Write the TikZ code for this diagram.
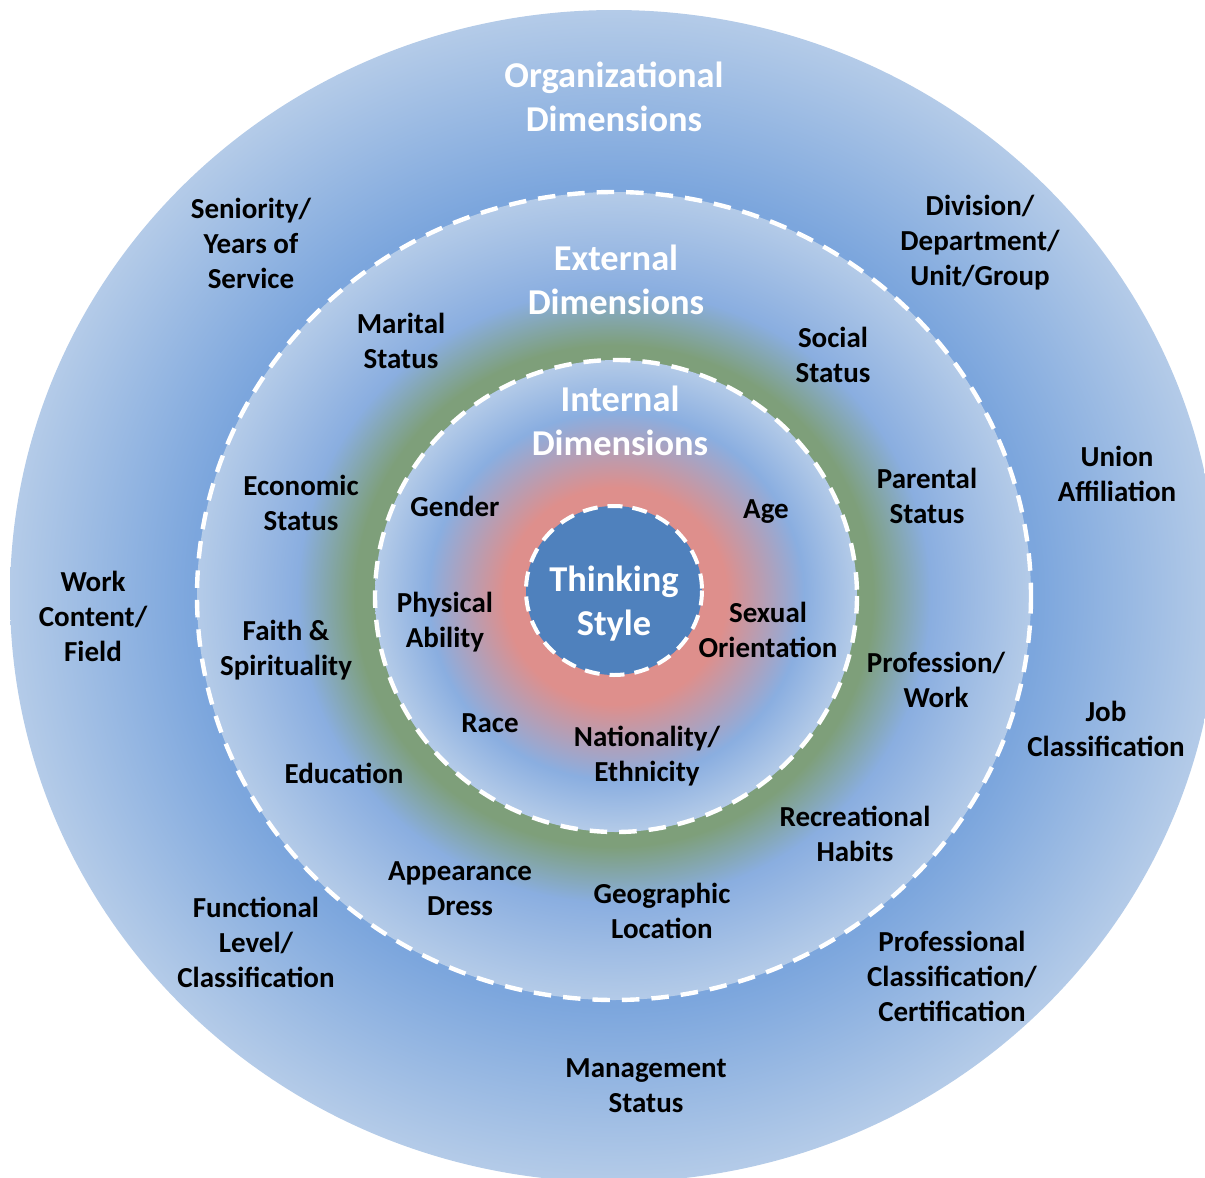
\documentclass[tikz,border=0pt]{standalone}
\usepackage{fontspec}
\setmainfont{Carlito}
\usepackage{tikz}
\definecolor{rimblue}{RGB}{180,203,232}
\definecolor{deepblue}{RGB}{124,166,221}
\definecolor{midblue}{RGB}{138,174,224}
\definecolor{softgreen}{RGB}{126,159,122}
\definecolor{corepink}{RGB}{222,143,140}
\definecolor{coreblue}{RGB}{79,129,189}
% ring shadings, 25bp is the rim of the ellipse
\pgfdeclareradialshading{orgshade}{\pgfpointorigin}{color(0bp)=(deepblue);
  color(17.5bp)=(deepblue); color(25bp)=(rimblue); color(50bp)=(rimblue)}
\pgfdeclareradialshading{extshade}{\pgfpointorigin}{color(0bp)=(softgreen);
  color(15.5bp)=(softgreen); color(19bp)=(midblue); color(25bp)=(rimblue);
  color(50bp)=(rimblue)}
\pgfdeclareradialshading{intshade}{\pgfpointorigin}{color(0bp)=(corepink);
  color(11.5bp)=(corepink); color(19.5bp)=(midblue); color(25bp)=(rimblue);
  color(50bp)=(rimblue)}

\begin{document}
\begin{tikzpicture}[x=0.5pt,y=-0.5pt,
    ringline/.style={draw=white,line width=2.2pt,dash pattern=on 8.75pt off 6pt},
    dimtitle/.style={font=\bfseries\fontsize{18.2}{22}\selectfont,text=white,
      align=center,inner sep=0pt},
    lbl/.style={font=\bfseries\fontsize{14.5}{17.5}\selectfont,text=black,
      align=center,inner sep=0pt}]
    \useasboundingbox (0,0) rectangle (1205,1178);
    \clip (0,0) rectangle (1205,1178);
    \coordinate (ctr) at (614,596);
    % the four rings
    \shade[shading=orgshade] (ctr) ellipse [x radius=604, y radius=586];
    \shadedraw[shading=extshade,ringline] (ctr) ellipse [x radius=417, y radius=404];
    \shadedraw[shading=intshade,ringline] (616,596) ellipse [x radius=241, y radius=236];
    \filldraw[fill=coreblue,ringline,dash pattern=on 7.5pt off 5pt,line width=2pt]
      (614,590.5) ellipse [x radius=88, y radius=84.5];
    % ring titles
    \node[dimtitle] (orgtitle) at (614,97) {Organizational\\Dimensions};
    \node[dimtitle] (exttitle) at (616,280) {External\\Dimensions};
    \node[dimtitle] (inttitle) at (620,421) {Internal\\Dimensions};
    \node[dimtitle] (core) at (614,604) {Thinking\\Style};
    % organizational dimensions
    \node[lbl] (seniority) at (251,243) {Seniority/\\Years of\\Service};
    \node[lbl] (division) at (980,243) {Division/\\Department/\\Unit/Group};
    \node[lbl] (union) at (1117,474) {Union\\Affiliation};
    \node[lbl] (workfield) at (93,616) {Work\\Content/\\Field};
    \node[lbl] (job) at (1106,729) {Job\\Classification};
    \node[lbl] (functional) at (256,942) {Functional\\Level/\\Classification};
    \node[lbl] (professional) at (952,976) {Professional\\Classification/\\Certification};
    \node[lbl] (management) at (646,1086) {Management\\Status};
    % external dimensions
    \node[lbl] (marital) at (401,341) {Marital\\Status};
    \node[lbl] (social) at (833,355) {Social\\Status};
    \node[lbl] (economic) at (301,503) {Economic\\Status};
    \node[lbl] (parental) at (927,496) {Parental\\Status};
    \node[lbl] (faith) at (286,650) {Faith \&\\Spirituality};
    \node[lbl] (profession) at (936,680) {Profession/\\Work};
    \node[lbl] (education) at (344,773) {Education};
    \node[lbl] (recreation) at (855,834) {Recreational\\Habits};
    \node[lbl] (appearance) at (460,889) {Appearance\\Dress};
    \node[lbl] (geographic) at (662,911) {Geographic\\Location};
    % internal dimensions
    \node[lbl] (gender) at (455,506) {Gender};
    \node[lbl] (age) at (766,512) {Age};
    \node[lbl] (physical) at (445,622) {Physical\\Ability};
    \node[lbl] (sexual) at (768,630) {Sexual\\Orientation};
    \node[lbl] (race) at (490,723) {Race};
    \node[lbl] (nationality) at (647,756) {Nationality/\\Ethnicity};
\end{tikzpicture}
\end{document}
